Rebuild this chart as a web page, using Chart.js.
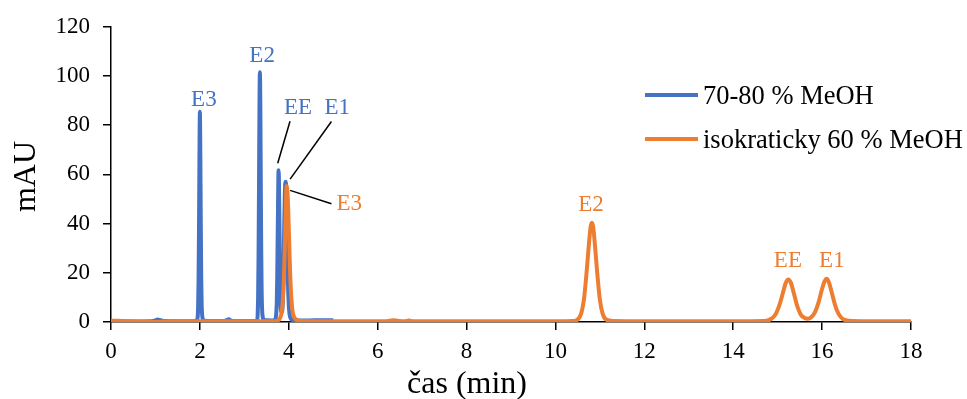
<!DOCTYPE html>
<html>
<head>
<meta charset="utf-8">
<script src="https://cdn.jsdelivr.net/npm/chart.js@4.4.1/dist/chart.umd.min.js"></script>
<style>
  html, body { margin: 0; padding: 0; background: #fff; }
  canvas { display: block; }
</style>
</head>
<body>
<canvas id="c" width="967" height="399"></canvas>
<script>
// ---- data ----
const seriesNames = ['70-80 % MeOH', 'isokraticky 60 % MeOH'];

const blueX = [0.00,0.50,0.90,1.00,1.05,1.10,1.20,1.50,1.85,1.92,1.95,1.96,1.97,1.98,1.99,2.00,2.01,2.02,2.03,2.04,2.05,2.07,2.10,2.30,2.55,2.60,2.65,2.70,2.80,3.20,3.29,3.30,3.31,3.32,3.33,3.34,3.35,3.36,3.37,3.38,3.39,3.40,3.42,3.45,3.60,3.68,3.71,3.73,3.74,3.75,3.76,3.77,3.78,3.79,3.80,3.81,3.82,3.84,3.86,3.88,3.89,3.90,3.91,3.92,3.93,3.94,3.95,3.96,3.97,3.98,4.00,4.02,4.05,4.10,4.30,4.60,5.00];
const blueY = [0.2,0.2,0.3,0.6,1.0,0.8,0.4,0.3,0.3,0.5,2,6,17,38,66,85.5,68,40,18,7,3,1,0.5,0.4,0.4,0.8,1.1,0.6,0.4,0.4,0.6,3,10,27,55,86,101.5,88,57,29,12,5,1.5,0.8,0.6,0.7,2,8,18,34,50,61.7,56,40,24,14,6,4,6,18,30,42,51,56,57,55,48,38,27,17,7,3,1.2,0.7,0.6,0.7,0.7];

const orangeX = [0.00,0.30,0.80,1.00,1.20,1.60,2.00,3.00,3.60,3.75,3.80,3.84,3.87,3.89,3.91,3.93,3.95,3.97,3.99,4.01,4.03,4.05,4.08,4.12,4.18,4.30,5.00,6.20,6.35,6.45,6.60,6.70,6.80,8.00,10.00,10.40,10.50,10.58,10.64,10.70,10.75,10.79,10.82,10.85,10.89,10.94,11.00,11.06,11.14,11.30,12.00,14.00,14.70,14.85,14.95,15.05,15.12,15.18,15.24,15.30,15.36,15.44,15.52,15.60,15.68,15.76,15.84,15.92,16.00,16.05,16.10,16.15,16.21,16.29,16.37,16.47,16.60,17.00,18.00];
const orangeY = [0.5,0.4,0.2,0.0,0.2,0.3,0.3,0.3,0.3,0.6,1.5,4,10,18,30,44,55.3,53,44,32,20,12,5,2,0.8,0.4,0.3,0.3,0.7,0.5,0.3,0.6,0.3,0.3,0.3,0.4,1,3.5,9,20,31,38.5,40.3,38.5,31,20,9,3.5,1,0.4,0.3,0.3,0.4,1.2,3,7.5,12,15.8,17.3,15.8,12,6.5,3,1.7,1.3,2,4,8,13.5,16.3,17.6,16.3,12.5,7,3.3,1.2,0.5,0.3,0.3];

const xTicks = [0,2,4,6,8,10,12,14,16,18];
const yTicks = [0,20,40,60,80,100,120];

const blueLabels = ['E3','E2','EE','E1'];
const orangeLabels = ['E3','E2','EE','E1'];

// ---- presentation (positions in data units) ----
const BLUE = '#4472C4', ORANGE = '#ED7D31';
const FONT = '"Liberation Serif", "Times New Roman", serif';
const blueLabelPos = [[2.09,90.4],[3.40,108.2],[4.21,87.0],[5.09,87.0]];
const orangeLabelPos = [[5.36,48.0],[10.80,47.4],[15.23,24.8],[16.22,24.8]];
const leaderLines = [
  [[4.028,81.6],[3.751,64.5]],
  [[4.96,81.5],[4.03,58.1]],
  [[4.03,53.5],[4.96,48.1]]
];

const toPts = (xs, ys) => xs.map((x, i) => ({x: x, y: ys[i]}));

const overlay = {
  id: 'overlay',
  afterDatasetsDraw(chart) {
    const {ctx, scales: {x, y}} = chart;
    ctx.save();
    ctx.strokeStyle = '#000';
    ctx.lineWidth = 1.5;
    leaderLines.forEach(l => {
      ctx.beginPath();
      ctx.moveTo(x.getPixelForValue(l[0][0]), y.getPixelForValue(l[0][1]));
      ctx.lineTo(x.getPixelForValue(l[1][0]), y.getPixelForValue(l[1][1]));
      ctx.stroke();
    });
    ctx.font = '23px ' + FONT;
    ctx.textAlign = 'center';
    ctx.textBaseline = 'middle';
    ctx.fillStyle = BLUE;
    blueLabels.forEach((t, i) => ctx.fillText(t, x.getPixelForValue(blueLabelPos[i][0]), y.getPixelForValue(blueLabelPos[i][1])));
    ctx.fillStyle = ORANGE;
    orangeLabels.forEach((t, i) => ctx.fillText(t, x.getPixelForValue(orangeLabelPos[i][0]), y.getPixelForValue(orangeLabelPos[i][1])));
    ctx.restore();
  },
  afterDraw(chart) {
    const ctx = chart.ctx;
    ctx.save();
    // legend
    const cols = [BLUE, ORANGE];
    const ys = [95, 139];
    ctx.lineWidth = 4;
    ctx.font = '26.5px ' + FONT;
    ctx.textAlign = 'left';
    ctx.textBaseline = 'alphabetic';
    seriesNames.forEach((n, i) => {
      ctx.strokeStyle = cols[i];
      ctx.beginPath();
      ctx.moveTo(645, ys[i]);
      ctx.lineTo(698, ys[i]);
      ctx.stroke();
      ctx.fillStyle = '#000';
      ctx.fillText(n, 703, ys[i] + 8.5);
    });
    // axis titles
    ctx.fillStyle = '#000';
    ctx.font = '32px ' + FONT;
    ctx.textAlign = 'center';
    ctx.fillText('čas (min)', 467, 393);
    ctx.translate(35, 176.5);
    ctx.rotate(-Math.PI / 2);
    ctx.fillText('mAU', 0, 0);
    ctx.restore();
  }
};

new Chart(document.getElementById('c'), {
  type: 'scatter',
  data: {
    datasets: [
      { label: seriesNames[0], data: toPts(blueX, blueY), showLine: true, borderColor: BLUE, backgroundColor: BLUE,
        borderWidth: 4, pointRadius: 0, cubicInterpolationMode: 'monotone', order: 1 },
      { label: seriesNames[1], data: toPts(orangeX, orangeY), showLine: true, borderColor: ORANGE, backgroundColor: ORANGE,
        borderWidth: 4, pointRadius: 0, cubicInterpolationMode: 'monotone', order: 0 }
    ]
  },
  options: {
    responsive: false,
    animation: false,
    devicePixelRatio: 1,
    layout: { padding: { top: 22, right: 56, left: 0, bottom: 0 } },
    plugins: { legend: { display: false }, tooltip: { enabled: false } },
    scales: {
      x: {
        type: 'linear', min: 0, max: 18,
        afterBuildTicks: s => { s.ticks = xTicks.map(v => ({value: v})); },
        afterFit: s => { s.height = 77; },
        ticks: { color: '#000', padding: 8, font: { family: FONT, size: 23 } },
        grid: { drawOnChartArea: false, drawTicks: true, tickLength: 8, color: '#000', lineWidth: 1.5 },
        border: { display: true, color: '#000', width: 1.5 }
      },
      y: {
        type: 'linear', min: 0, max: 120,
        afterBuildTicks: s => { s.ticks = yTicks.map(v => ({value: v})); },
        afterFit: s => { s.width = 111; },
        ticks: { color: '#000', padding: 13, font: { family: FONT, size: 23 } },
        grid: { drawOnChartArea: false, drawTicks: true, tickLength: 8, color: '#000', lineWidth: 1.5 },
        border: { display: true, color: '#000', width: 1.5 }
      }
    }
  },
  plugins: [overlay]
});
</script>
</body>
</html>
